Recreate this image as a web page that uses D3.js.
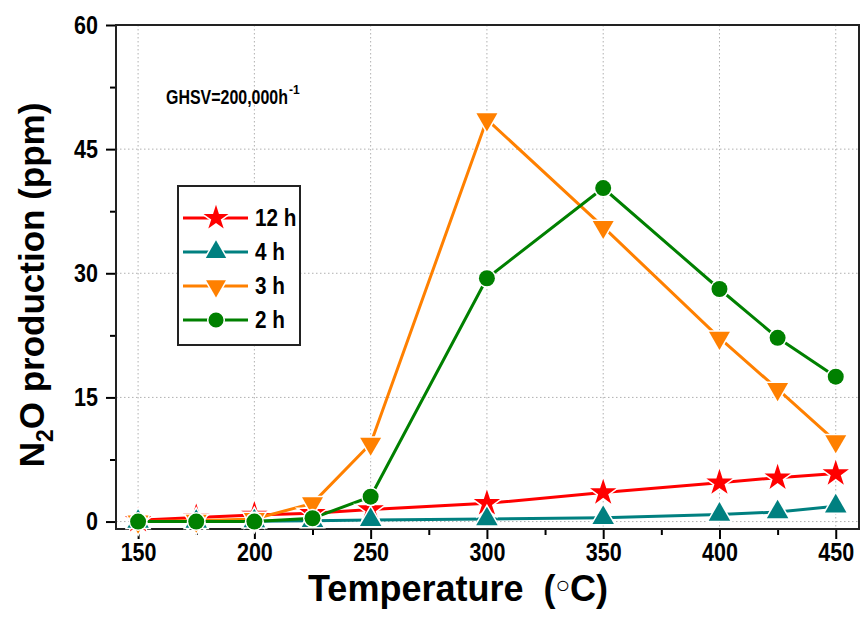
<!DOCTYPE html>
<html>
<head>
<meta charset="utf-8">
<script src="https://cdn.jsdelivr.net/npm/d3@7"></script>
<style>
  body { margin: 0; background: #fff; }
  svg { font-family: "Liberation Sans", Arial, sans-serif; font-weight: bold; }
  text { white-space: pre; }
</style>
</head>
<body>
<svg id="chart" width="861" height="628"></svg>
<script>
// Temperatures (°C)
let temps = [150, 175, 200, 225, 250, 300, 350, 400, 425, 450];

// N2O production (ppm) per calcination time
let h12 = [0.15, 0.5, 0.8, 1.0, 1.45, 2.2, 3.5, 4.7, 5.3, 5.8];
let h4  = [0.0, 0.0, 0.05, 0.1, 0.2, 0.3, 0.45, 0.85, 1.15, 1.85];
let h3  = [0.0, 0.1, 0.3, 2.2, 9.4, 48.6, 35.6, 22.2, 16.0, 9.7];
let h2  = [0.0, 0.0, 0.0, 0.4, 3.0, 29.4, 40.3, 28.1, 22.2, 17.5];

let seriesNames = ["12 h", "4 h", "3 h", "2 h"];
let xTicks = [150, 200, 250, 300, 350, 400, 450];
let yTicks = [0, 15, 30, 45, 60];

let svg = d3.select("#chart");

// Plot frame
let plotLeft = 116, plotRight = 859, plotTop = 25, plotBottom = 529;

let x = d3.scaleLinear().domain([140.5, 460]).range([plotLeft, plotRight]);
let y = d3.scaleLinear().domain([-0.9, 60]).range([plotBottom, plotTop]);

let series = [
    {name: seriesNames[0], values: h12, color: "#ff0000", symbol: d3.symbolStar, size: 215, rotate: 0},
    {name: seriesNames[1], values: h4,  color: "#008080", symbol: d3.symbolTriangle, size: 200, rotate: 0},
    {name: seriesNames[2], values: h3,  color: "#ff8000", symbol: d3.symbolTriangle, size: 190, rotate: 180},
    {name: seriesNames[3], values: h2,  color: "#008000", symbol: d3.symbolCircle, size: 200, rotate: 0}
];

// condensed bold digits, like the original
function narrow(sel, size, ratio) {
    sel.attr("font-size", size).attr("font-weight", "bold").attr("fill", "#000")
        .each(function () {
            let w = this.getComputedTextLength();
            d3.select(this).attr("textLength", w * ratio).attr("lengthAdjust", "spacingAndGlyphs");
        });
}

// Dotted grid
svg.append("g")
    .selectAll("line")
    .data(xTicks)
    .enter()
    .append("line")
    .attr("x1", d => x(d)).attr("x2", d => x(d))
    .attr("y1", plotTop).attr("y2", plotBottom)
    .attr("stroke", "#b0b0b0")
    .attr("stroke-width", 1)
    .attr("stroke-dasharray", "1.5,2.5");

svg.append("g")
    .selectAll("line")
    .data(yTicks.slice(0, 4))
    .enter()
    .append("line")
    .attr("x1", plotLeft).attr("x2", plotRight)
    .attr("y1", d => y(d)).attr("y2", d => y(d))
    .attr("stroke", "#b0b0b0")
    .attr("stroke-width", 1)
    .attr("stroke-dasharray", "1.5,2.5");

// Axes
let xMinor = d3.range(150, 451, 25).filter(d => xTicks.indexOf(d) < 0);
let yMinor = [7.5, 22.5, 37.5, 52.5];

let xAxis = svg.append("g")
    .attr("transform", "translate(0," + plotBottom + ")")
    .call(d3.axisBottom(x).tickValues(xTicks).tickSize(10).tickSizeOuter(0).tickPadding(4));
xAxis.select(".domain").remove();
xAxis.selectAll("line").attr("stroke", "#000").attr("stroke-width", 2);
xAxis.selectAll("text").call(narrow, 25, 0.86);

svg.append("g")
    .attr("transform", "translate(0," + plotBottom + ")")
    .call(d3.axisBottom(x).tickValues(xMinor).tickSize(6).tickSizeOuter(0).tickFormat(""))
    .call(g => g.select(".domain").remove())
    .selectAll("line").attr("stroke", "#000").attr("stroke-width", 2);

let yAxis = svg.append("g")
    .attr("transform", "translate(" + plotLeft + ",0)")
    .call(d3.axisLeft(y).tickValues(yTicks).tickSize(10).tickSizeOuter(0).tickPadding(8));
yAxis.select(".domain").remove();
yAxis.selectAll("line").attr("stroke", "#000").attr("stroke-width", 2);
yAxis.selectAll("text").call(narrow, 25, 0.86);

svg.append("g")
    .attr("transform", "translate(" + plotLeft + ",0)")
    .call(d3.axisLeft(y).tickValues(yMinor).tickSize(6).tickSizeOuter(0).tickFormat(""))
    .call(g => g.select(".domain").remove())
    .selectAll("line").attr("stroke", "#000").attr("stroke-width", 2);

// Frame
svg.append("rect")
    .attr("x", plotLeft).attr("y", plotTop)
    .attr("width", plotRight - plotLeft).attr("height", plotBottom - plotTop)
    .attr("fill", "none")
    .attr("stroke", "#222")
    .attr("stroke-width", 2);

// Series lines and markers
let line = d3.line().x(d => x(d[0])).y(d => y(d[1]));

series.forEach(function (s) {
    let pts = temps.map((t, i) => [t, s.values[i]]);
    svg.append("path")
        .datum(pts)
        .attr("d", line)
        .attr("fill", "none")
        .attr("stroke", s.color)
        .attr("stroke-width", 3);
});

series.forEach(function (s) {
    let pts = temps.map((t, i) => [t, s.values[i]]);
    svg.append("g")
        .selectAll("path")
        .data(pts)
        .enter()
        .append("path")
        .attr("d", d3.symbol().type(s.symbol).size(s.size))
        .attr("transform", d => "translate(" + x(d[0]) + "," + y(d[1]) + ") rotate(" + s.rotate + ")")
        .attr("fill", s.color)
        .attr("stroke", "#fff")
        .attr("stroke-width", 3)
        .attr("paint-order", "stroke");
});

// Legend
let legend = svg.append("g").attr("class", "legend");
legend.append("rect")
    .attr("x", 178).attr("y", 186)
    .attr("width", 122).attr("height", 159)
    .attr("fill", "#fff")
    .attr("stroke", "#222")
    .attr("stroke-width", 2);

let rows = legend.selectAll("g.row")
    .data(series)
    .enter()
    .append("g")
    .attr("class", "row")
    .attr("transform", (d, i) => "translate(0," + (218 + i * 34) + ")");

rows.append("line")
    .attr("x1", 183).attr("x2", 248)
    .attr("stroke", d => d.color)
    .attr("stroke-width", 3);

rows.append("path")
    .attr("d", d => d3.symbol().type(d.symbol).size(d.size * 0.9)())
    .attr("transform", d => "translate(216,0) rotate(" + d.rotate + ")")
    .attr("fill", d => d.color)
    .attr("stroke", "#fff")
    .attr("stroke-width", 3)
    .attr("paint-order", "stroke");

rows.append("text")
    .attr("x", 255)
    .attr("dy", "0.36em")
    .text(d => d.name)
    .call(narrow, 23, 0.9);

// Annotation (squeezed with a transform so its box stays honest)
svg.append("text")
    .attr("transform", "translate(166,104) scale(0.76,1)")
    .attr("font-size", 21)
    .attr("fill", "#000")
    .text("GHSV=200,000h");
svg.append("text")
    .attr("x", 289).attr("y", 94)
    .attr("font-size", 12)
    .attr("fill", "#000")
    .text("-1");

// Axis titles
let xTitle = svg.append("text")
    .attr("x", 458)
    .attr("y", 601)
    .attr("text-anchor", "middle")
    .attr("font-size", 36)
    .attr("fill", "#000");
xTitle.append("tspan").text("Temperature  (");
xTitle.append("tspan").attr("font-size", 24).attr("dy", -8).text("○");
xTitle.append("tspan").attr("dy", 8).text("C)");

let yTitle = svg.append("text")
    .attr("transform", "translate(44," + ((plotTop + plotBottom) / 2 + 8) + ") rotate(-90)")
    .attr("text-anchor", "middle")
    .attr("font-size", 35)
    .attr("fill", "#000");
yTitle.append("tspan").text("N");
yTitle.append("tspan").attr("font-size", 23).attr("dy", 9).text("2");
yTitle.append("tspan").attr("dy", -9).text("O production (ppm)");
</script>
</body>
</html>
